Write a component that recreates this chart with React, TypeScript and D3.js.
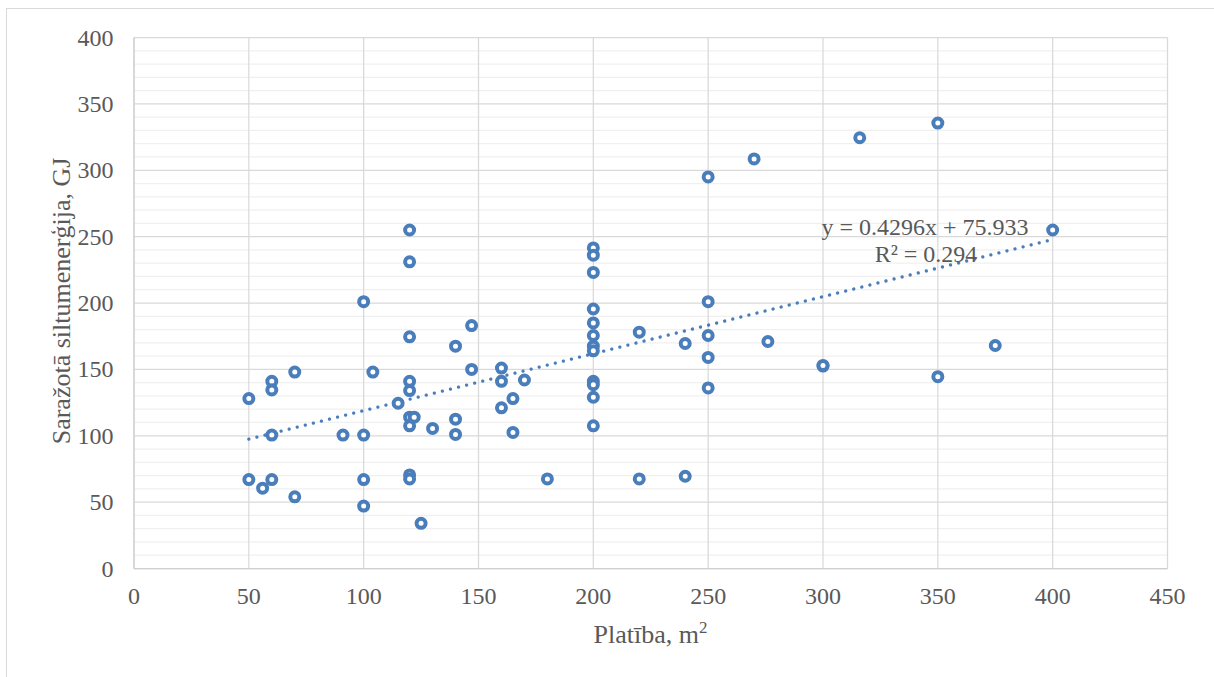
import React from 'react'
import * as d3 from 'd3'

// Platība (m2) and saražotā siltumenerģija (GJ)
const area = [
  50, 50, 56, 60, 60, 60, 60, 70, 70, 91,
  100, 100, 100, 100, 104, 115, 120, 120, 120, 120,
  120, 120, 122, 120, 120, 120, 125, 130, 140, 140,
  140, 147, 147, 160, 160, 160, 165, 165, 170, 180,
  200, 200, 200, 200, 200, 200, 200, 200, 200, 200,
  200, 200, 220, 220, 240, 240, 250, 250, 250, 250,
  250, 270, 276, 300, 300, 316, 350, 350, 375, 400,
]
const energy = [
  128, 67, 60.5, 141, 134.5, 100.5, 67, 148, 54, 100.5,
  201, 100.5, 67, 47, 148, 124.5, 255, 231, 174.5, 141,
  134, 114, 114, 107.5, 70.5, 67.5, 34, 105.5, 167.5, 112.5,
  101, 183, 150, 151, 141, 121, 128, 102.5, 142, 67.5,
  241.5, 236, 223, 195.5, 185, 175.5, 167.5, 164, 141, 138.5,
  129, 107.5, 178, 67.5, 169.5, 69.5, 295, 201, 175.5, 159,
  136, 308.5, 171, 152.5, 153, 324.5, 335.5, 144.5, 168, 255,
]

const xTicks = [0, 50, 100, 150, 200, 250, 300, 350, 400, 450]
const yTicks = [0, 50, 100, 150, 200, 250, 300, 350, 400]

// Excel linear trendline as printed on the chart
const slope = 0.4296
const intercept = 75.933
const eqLabel = 'y = 0.4296x + 75.933'
const r2Label = 'R² = 0.294'

const xTitle = 'Platība, m'
const yTitle = 'Saražotā siltumenerģija, GJ'

const W = 1214
const H = 677
const blue = '#4a7ebb'
const textColor = '#595959'
const font = '"Liberation Serif", "Times New Roman", serif'

export default function App() {
  const x = d3.scaleLinear().domain([0, 450]).range([134, 1167.5])
  const y = d3.scaleLinear().domain([0, 400]).range([568.5, 37.5])

  const minorY = d3.range(0, 401, 10).filter(v => v % 50 !== 0)

  const xMin = d3.min(area) as number
  const xMax = d3.max(area) as number
  const trend = d3.line<number>()
    .x(v => x(v))
    .y(v => y(slope * v + intercept))([xMin, xMax])

  return (
    <div style={{ position: 'absolute', left: 0, top: 0 }}>
      <svg width={W} height={H} style={{ display: 'block', background: '#fff' }}>
        <rect x={6.5} y={8.5} width={W + 10} height={H + 10} fill="#fff" stroke="#d9d9d9" strokeWidth={1} />

        {/* minor gridlines */}
        {minorY.map(v => (
          <line key={'m' + v} x1={x(0)} x2={x(450)} y1={y(v)} y2={y(v)} stroke="#f0f0f0" strokeWidth={1.25} />
        ))}
        {/* major gridlines */}
        {yTicks.map(v => (
          <line key={'y' + v} x1={x(0)} x2={x(450)} y1={y(v)} y2={y(v)} stroke="#d9d9d9" strokeWidth={1.25} />
        ))}
        {xTicks.map(v => (
          <line key={'x' + v} x1={x(v)} x2={x(v)} y1={y(0)} y2={y(400)} stroke="#d9d9d9" strokeWidth={1.25} />
        ))}
        <line x1={x(0)} x2={x(450)} y1={y(0)} y2={y(0)} stroke="#cfcfcf" strokeWidth={1.25} />
        <line x1={x(0)} x2={x(0)} y1={y(0)} y2={y(400)} stroke="#cfcfcf" strokeWidth={1.25} />

        {/* tick labels */}
        <g fontFamily={font} fontSize={24} fill={textColor}>
          {yTicks.map(v => (
            <text key={'yl' + v} x={113.5} y={y(v) + 8} textAnchor="end">{v}</text>
          ))}
          {xTicks.map(v => (
            <text key={'xl' + v} x={x(v)} y={604} textAnchor="middle">{v}</text>
          ))}
        </g>

        {/* axis titles */}
        <text x={650.5} y={643} textAnchor="middle" fontFamily={font} fontSize={26} fill={textColor}>
          {xTitle}<tspan fontSize={17} dy={-10}>2</tspan>
        </text>
        <text transform={`translate(70,301) rotate(-90)`} textAnchor="middle" fontFamily={font} fontSize={26} fill={textColor}>{yTitle}</text>

        {/* trendline */}
        <path d={trend || ''} fill="none" stroke={blue} strokeWidth={3.3} strokeDasharray="0.01 8.3" strokeLinecap="round" />

        {/* points */}
        {area.map((a, i) => (
          <circle key={'p' + i} cx={x(a)} cy={y(energy[i])} r={4.5} fill="#fff" stroke={blue} strokeWidth={4} />
        ))}

        {/* equation label */}
        <g fontFamily={font} fontSize={24} fill={textColor} textAnchor="middle">
          <text x={925} y={235}>{eqLabel}</text>
          <text x={926} y={262}>{r2Label}</text>
        </g>
      </svg>
    </div>
  )
}
